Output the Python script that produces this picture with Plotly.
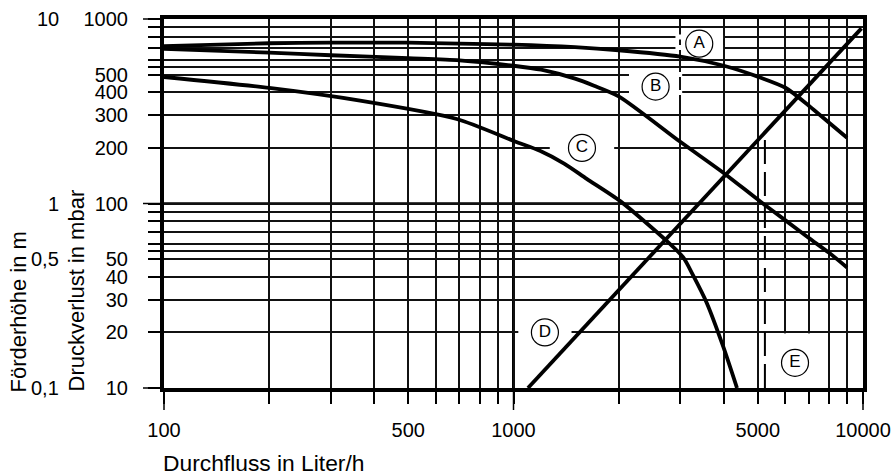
import math
import plotly.graph_objects as go

# ---------------- data ----------------
a_flow = [100, 200, 300, 500, 700, 1000, 1500, 2000, 3000, 4000, 5000, 6000, 7000, 8000, 9000]
a_dp = [712, 739, 744, 744, 735, 726, 704, 677, 625, 558, 487, 424, 339, 274, 227]

b_flow = [100, 200, 300, 500, 700, 1000, 1200, 1500, 1700, 2000, 3000, 4000, 5000, 6000, 7000, 8000, 9000]
b_dp = [688, 657, 636, 613, 597, 558, 531, 475, 435, 381, 216, 146, 105, 81, 65, 54, 45]

c_flow = [100, 200, 364, 688, 1010, 1190, 1400, 1620, 2020, 2710, 3060, 3260, 3570, 3980, 4360]
c_dp = [485, 423, 361, 287, 217, 193, 164, 136, 103, 64, 51, 41, 29, 16.8, 10]

d_flow = [1100, 9900]
d_dp = [10, 890]

e_flow = [5240, 5240]
e_dp = [10, 236]

labels = ["A", "B", "C", "D", "E"]
label_flow = [3400, 2550, 1570, 1230, 6390]
label_dp = [735, 430, 200, 20, 13.7]

# gaps in the grid behind the labels (horizontal gridlines: value, vertical: flow)
gap_h_flow = [3400, 3400, 2550, 2550, 1570, 1230]
gap_h_dp = [800, 700, 500, 400, 200, 20]
gap_h_len = [34, 34, 38, 38, 46, 38]
gap_v_flow = [6000, 7000]
gap_v_dp = [13.7, 13.7]

x_major = [100, 500, 1000, 5000, 10000]
x_minor = [200, 300, 400, 600, 700, 800, 900, 2000, 3000, 4000, 6000, 7000, 8000, 9000]
y_major = [10, 20, 30, 40, 50, 100, 200, 300, 400, 500, 1000]
y_minor = [55, 60, 70, 80, 90, 550, 600, 700, 800, 900]

head_m = [0.1, 0.5, 1, 10]
head_text = ["0,1", "0,5", "1", "10"]
mbar_per_m = 100

FONT = "Liberation Sans, Arial, sans-serif"
W, H = 896, 475
ML, MR, MT, MB = 164, 33, 19, 87
PW, PH = W - ML - MR, H - MT - MB


def px_x(p):
    return (p - ML) / PW


def px_y(p):
    return (H - MB - p) / PH


fig = go.Figure()

# white gaps in grid lines around the circled labels
for f, v, L in zip(gap_h_flow, gap_h_dp, gap_h_len):
    fig.add_trace(go.Scatter(x=[f], y=[v], mode="markers", hoverinfo="skip",
                             marker=dict(symbol="line-ew", size=L,
                                         line=dict(color="white", width=5))))
fig.add_trace(go.Scatter(x=gap_v_flow, y=gap_v_dp, mode="markers", hoverinfo="skip",
                         marker=dict(symbol="line-ns", size=42,
                                     line=dict(color="white", width=5))))

curve_line = dict(color="black", width=3.8, shape="spline", smoothing=0.7)
for fx, fy in [(a_flow, a_dp), (b_flow, b_dp), (c_flow, c_dp)]:
    fig.add_trace(go.Scatter(x=fx, y=fy, mode="lines", line=curve_line, hoverinfo="skip"))
fig.add_trace(go.Scatter(x=d_flow, y=d_dp, mode="lines", hoverinfo="skip",
                         line=dict(color="black", width=3.8)))
fig.add_trace(go.Scatter(x=e_flow, y=e_dp, mode="lines", hoverinfo="skip",
                         line=dict(color="black", width=2, dash="24px,8px")))

fig.add_trace(go.Scatter(x=label_flow, y=label_dp, mode="markers+text",
                         text=labels, textposition="middle center", hoverinfo="skip",
                         textfont=dict(size=17, color="black", family=FONT),
                         marker=dict(symbol="circle", size=27, color="white",
                                     line=dict(color="black", width=1.2))))

grid = dict(showgrid=True, gridcolor="#111111", gridwidth=1.6)
tickst = dict(ticks="outside", ticklen=12, tickwidth=1.5, tickcolor="black")

fig.update_xaxes(type="log", range=[2, 4], tickvals=x_major,
                 ticktext=[str(v) for v in x_major], automargin=False,
                 minor=dict(tickvals=x_minor, **tickst, **grid),
                 showline=True, linewidth=4, linecolor="black", mirror=True,
                 tickfont=dict(size=20, color="black", family=FONT),
                 ticklabelstandoff=9, zeroline=False, **tickst, **grid)
fig.update_yaxes(type="log", range=[1, 3], tickvals=y_major,
                 ticktext=[str(v) for v in y_major], automargin=False,
                 minor=dict(tickvals=y_minor, **tickst, **grid),
                 showline=True, linewidth=4, linecolor="black", mirror=True,
                 tickfont=dict(size=20, color="black", family=FONT),
                 ticklabelstandoff=16, zeroline=False, **tickst, **grid)

shapes = [
    dict(type="line", xref="paper", yref="paper", x0=0.5, x1=0.5, y0=0, y1=1,
         line=dict(color="black", width=3), layer="below"),
    dict(type="line", xref="paper", yref="paper", x0=0, x1=1, y0=0.5, y1=0.5,
         line=dict(color="black", width=2.4), layer="below"),
]
for xp in [0, 0.5, 1]:
    shapes.append(dict(type="line", xref="paper", yref="paper", x0=xp, x1=xp,
                       ysizemode="pixel", yanchor=0, y0=0, y1=-22,
                       line=dict(color="black", width=1.5)))
for yp in [0, 0.5, 1]:
    shapes.append(dict(type="line", xref="paper", yref="paper", y0=yp, y1=yp,
                       xsizemode="pixel", xanchor=0, x0=0, x1=-21,
                       line=dict(color="black", width=1.5)))

annotations = []
for m, t in zip(head_m, head_text):
    annotations.append(dict(xref="paper", yref="y", x=px_x(61), y=math.log10(m * mbar_per_m),
                            text=t, showarrow=False, xanchor="right", yanchor="middle",
                            font=dict(size=20, color="black", family=FONT)))
annotations += [
    dict(xref="paper", yref="paper", x=px_x(161), y=px_y(463), text="Durchfluss in Liter/h",
         showarrow=False, xanchor="left", yanchor="middle",
         font=dict(size=22.8, color="black", family=FONT)),
    dict(xref="paper", yref="paper", x=px_x(18), y=px_y(395), text="Förderhöhe in m",
         showarrow=False, xanchor="center", yanchor="bottom", textangle=-90,
         font=dict(size=22, color="black", family=FONT)),
    dict(xref="paper", yref="paper", x=px_x(75.5), y=px_y(394), text="Druckverlust in mbar",
         showarrow=False, xanchor="center", yanchor="bottom", textangle=-90,
         font=dict(size=22, color="black", family=FONT)),
]

fig.update_layout(width=W, height=H, margin=dict(l=ML, r=MR, t=MT, b=MB, autoexpand=False),
                  paper_bgcolor="white", plot_bgcolor="white", showlegend=False,
                  font=dict(family=FONT, color="black"),
                  shapes=shapes, annotations=annotations)

fig.write_html("out.html", config={"displayModeBar": False},
               post_script="document.body.style.margin='0px';"
                           "document.body.style.padding='0px';"
                           "document.body.style.overflow='hidden';")
